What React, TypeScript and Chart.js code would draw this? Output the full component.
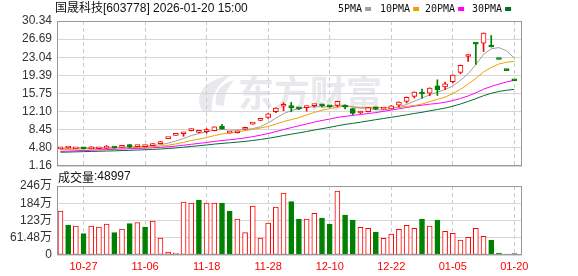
import React, { useEffect, useRef } from 'react';
import { Chart, registerables } from 'chart.js';

Chart.register(...registerables);

const RED = '#ff0000';
const GREEN = '#008000';

const dates = [
  '10-22', '10-23', '10-24', '10-27', '10-28', '10-29', '10-30', '10-31', '11-03', '11-04',
  '11-05', '11-06', '11-07', '11-10', '11-11', '11-12', '11-13', '11-14', '11-17', '11-18',
  '11-19', '11-20', '11-21', '11-24', '11-25', '11-26', '11-27', '11-28', '12-01', '12-02',
  '12-03', '12-04', '12-05', '12-08', '12-09', '12-10', '12-11', '12-12', '12-15', '12-16',
  '12-17', '12-18', '12-19', '12-22', '12-23', '12-24', '12-25', '12-26', '12-29', '12-30',
  '12-31', '01-05', '01-06', '01-07', '01-08', '01-09', '01-15', '01-16', '01-19', '01-20',
];

const opens = [
  4.62, 4.78, 4.62, 4.80, 4.62, 4.64, 4.76, 4.82, 4.92, 5.46,
  5.06, 5.06, 5.26, 5.66, 6.67, 7.33, 7.65, 8.27, 7.92, 8.07,
  8.27, 9.14, 7.78, 7.85, 8.55, 9.60, 10.35, 10.95, 12.10, 13.19,
  13.05, 12.75, 12.90, 13.30, 13.35, 13.20, 13.35, 13.10, 12.70, 11.83,
  12.10, 12.75, 12.62, 12.63, 13.39, 14.16, 15.16, 15.80, 15.84, 17.31,
  17.05, 18.11, 19.98, 23.20, 25.93, 25.88, 25.15, 22.60, 20.34, 18.31,
];
const highs = [
  4.93, 4.86, 4.84, 4.84, 5.06, 4.86, 5.26, 4.86, 5.30, 5.50,
  5.30, 5.32, 5.64, 6.10, 6.67, 7.33, 7.83, 8.62, 8.14, 8.68,
  9.05, 9.55, 7.92, 8.20, 9.00, 9.83, 10.65, 11.70, 12.86, 13.89,
  13.96, 12.85, 13.15, 13.42, 13.50, 13.30, 14.20, 13.49, 12.75, 12.20,
  12.95, 13.03, 12.75, 13.32, 14.05, 15.05, 16.08, 16.65, 16.90, 18.51,
  18.05, 19.52, 21.47, 23.57, 25.93, 27.95, 27.41, 22.60, 20.34, 18.31,
];
const lows = [
  4.58, 4.74, 4.60, 4.60, 4.60, 4.62, 4.66, 4.74, 4.90, 4.80,
  5.00, 5.02, 5.22, 5.62, 6.67, 7.33, 7.13, 8.22, 7.85, 7.77,
  8.22, 8.58, 7.76, 7.80, 8.50, 9.55, 10.30, 10.74, 11.89, 12.29,
  12.07, 12.50, 12.20, 13.00, 13.03, 12.95, 13.03, 12.63, 11.50, 11.70,
  12.05, 12.49, 12.55, 12.60, 13.03, 13.84, 14.84, 14.80, 15.30, 15.36,
  16.51, 17.85, 19.72, 22.19, 21.59, 24.20, 25.11, 22.60, 20.34, 18.31,
];
const closes = [
  4.90, 4.82, 4.80, 4.64, 4.92, 4.82, 4.82, 4.78, 5.26, 5.06,
  5.26, 5.24, 5.60, 6.06, 6.67, 7.33, 7.80, 8.58, 8.10, 8.33,
  9.02, 8.62, 7.88, 8.13, 8.94, 9.83, 10.62, 11.66, 12.83, 13.49,
  12.90, 12.65, 13.10, 13.40, 13.25, 13.05, 14.16, 13.00, 11.75, 12.09,
  12.90, 12.65, 12.72, 13.29, 14.00, 15.00, 16.04, 15.65, 16.85, 16.51,
  17.71, 19.48, 21.43, 23.57, 25.70, 27.90, 25.11, 22.60, 20.34, 18.31,
];

const volumes = [
  1568000, 1069000, 1034000, 760000, 1034000, 998000, 1105000, 795000, 927000, 1116000,
  1152000, 998000, 1212000, 606000, 107000, 71000, 1889000, 1853000, 1960000, 1853000,
  1853000, 1853000, 1568000, 1283000, 795000, 1746000, 606000, 1140000, 1710000, 2210000,
  1900000, 1283000, 1283000, 1486000, 1319000, 1105000, 2281000, 1426000, 1247000, 986000,
  950000, 820000, 594000, 748000, 915000, 1057000, 950000, 1283000, 1034000, 1247000,
  843000, 772000, 535000, 629000, 950000, 665000, 535000, 71000, 36000, 48997,
];
// 1 = red (up) volume bar, 0 = green
const volUp = [
  1, 0, 1, 0, 1, 1, 1, 0, 1, 0,
  1, 0, 1, 1, 1, 1, 1, 1, 0, 1,
  1, 0, 0, 1, 1, 1, 1, 1, 1, 1,
  0, 0, 1, 1, 0, 0, 1, 0, 0, 1,
  1, 0, 1, 1, 1, 1, 1, 0, 1, 0,
  1, 1, 1, 1, 1, 1, 0, 0, 0, 0,
];

const ma5 = [
  4.67, 4.73, 4.77, 4.78, 4.82, 4.80, 4.78, 4.80, 4.92, 4.95,
  5.04, 5.12, 5.28, 5.44, 5.77, 6.18, 6.69, 7.29, 7.70, 8.03,
  8.37, 8.53, 8.39, 8.40, 8.52, 8.68, 9.08, 9.84, 10.78, 11.69,
  12.30, 12.71, 12.99, 13.11, 13.06, 13.09, 13.39, 13.37, 13.04, 12.81,
  12.78, 12.48, 12.42, 12.73, 13.11, 13.53, 14.21, 14.80, 15.51, 16.01,
  16.55, 17.24, 18.40, 19.74, 21.58, 23.62, 24.74, 24.98, 24.33, 22.85,
];
const ma10 = [
  4.44, 4.46, 4.58, 4.60, 4.64, 4.68, 4.72, 4.76, 4.84, 4.88,
  4.92, 4.96, 5.04, 5.18, 5.36, 5.61, 5.91, 6.29, 6.57, 6.90,
  7.27, 7.61, 7.84, 8.05, 8.27, 8.52, 8.81, 9.11, 9.59, 10.10,
  10.49, 10.89, 11.42, 11.94, 12.37, 12.70, 13.05, 13.18, 13.08, 12.94,
  12.94, 12.94, 12.90, 12.89, 12.96, 13.16, 13.34, 13.61, 14.12, 14.56,
  15.04, 15.73, 16.60, 17.62, 18.79, 20.08, 20.99, 21.69, 22.04, 22.22,
];
const ma20 = [
  4.10, 4.16, 4.22, 4.28, 4.34, 4.40, 4.46, 4.51, 4.58, 4.64,
  4.70, 4.76, 4.83, 4.92, 5.03, 5.17, 5.33, 5.53, 5.71, 5.89,
  6.10, 6.29, 6.44, 6.61, 6.82, 7.07, 7.36, 7.70, 8.08, 8.50,
  8.88, 9.25, 9.63, 9.99, 10.32, 10.61, 10.93, 11.15, 11.33, 11.52,
  11.71, 11.91, 12.16, 12.41, 12.67, 12.93, 13.20, 13.40, 13.60, 13.75,
  13.99, 14.33, 14.75, 15.26, 15.88, 16.62, 17.17, 17.65, 18.08, 18.39,
];
const ma30 = [
  3.93, 3.97, 4.01, 4.05, 4.09, 4.13, 4.17, 4.21, 4.27, 4.32,
  4.38, 4.43, 4.50, 4.58, 4.68, 4.80, 4.94, 5.10, 5.24, 5.39,
  5.56, 5.71, 5.83, 5.96, 6.11, 6.29, 6.49, 6.73, 7.00, 7.29,
  7.56, 7.82, 8.10, 8.39, 8.67, 8.94, 9.25, 9.53, 9.74, 9.98,
  10.23, 10.48, 10.72, 10.96, 11.20, 11.46, 11.73, 11.97, 12.26, 12.53,
  12.82, 13.18, 13.64, 14.15, 14.71, 15.31, 15.79, 16.16, 16.41, 16.57,
];

const priceTicks = [1.16, 4.80, 8.45, 12.10, 15.75, 19.39, 23.04, 26.69, 30.34];
const volTicks = [0, 614800, 1229600, 1844400, 2459200];
const volTickLabels = ['0', '61.48万', '123万', '184万', '246万'];
const xTickIdx = [3, 11, 19, 27, 35, 43, 51, 59];

const maNames = ['5PMA', '10PMA', '20PMA', '30PMA'];
const maColors = ['#a0a0a0', '#f0a000', '#ff00ff', '#006e30'];

const titleText = '国晟科技[603778] 2026-01-20 15:00';
const volLabelText = '成交量';
const volLabelValue = ':48997';

function isUp(i: number) {
  const o = opens[i];
  const c = closes[i];
  if (c > o) return true;
  if (c < o) return false;
  return i === 0 ? true : c >= closes[i - 1];
}

const framePlugin = {
  id: 'frame',
  afterDraw(chart: any) {
    const { ctx, chartArea: a } = chart;
    ctx.save();
    ctx.strokeStyle = '#999999';
    ctx.lineWidth = 1;
    const l = Math.round(a.left) + 0.5;
    const t = Math.round(a.top) + 0.5;
    const r = Math.round(a.right) - 0.5;
    const b = Math.round(a.bottom) - 0.5;
    ctx.strokeRect(l, t, r - l, b - t);
    ctx.restore();
  },
};

const watermarkPlugin = {
  id: 'watermark',
  beforeDraw(chart: any) {
    const ctx = chart.ctx;
    ctx.save();
    ctx.fillStyle = '#e8e8ed';
    ctx.beginPath();
    ctx.moveTo(203, 112);
    ctx.bezierCurveTo(193, 96, 203, 80, 231, 75);
    ctx.bezierCurveTo(215, 86, 210, 99, 212, 112);
    ctx.closePath();
    ctx.fill();
    ctx.beginPath();
    ctx.moveTo(216, 105);
    ctx.bezierCurveTo(214, 93, 220, 84, 234, 80);
    ctx.bezierCurveTo(226, 90, 224, 98, 224, 106);
    ctx.closePath();
    ctx.fill();
    ctx.font = "bold 36px 'Noto Sans CJK SC'";
    ctx.textBaseline = 'middle';
    ctx.textAlign = 'left';
    ctx.fillText('东方财富', 238, 93);
    ctx.restore();
  },
};

const headerPlugin = {
  id: 'header',
  afterDraw(chart: any) {
    const ctx = chart.ctx;
    ctx.save();
    ctx.textBaseline = 'middle';
    ctx.textAlign = 'left';
    ctx.fillStyle = '#111111';
    ctx.font = "12px 'Liberation Sans', 'Noto Sans CJK SC'";
    ctx.fillText(titleText, 55, 9);
    const xs = [338, 380, 425, 472];
    ctx.font = "10px 'DejaVu Sans Mono'";
    maNames.forEach((n, k) => {
      ctx.fillStyle = '#111111';
      ctx.fillText(n, xs[k], 9);
      const w = ctx.measureText(n).width;
      ctx.fillStyle = maColors[k];
      ctx.fillRect(xs[k] + w + 3, 7, 6, 4);
    });
    ctx.restore();
  },
};

const volHeaderPlugin = {
  id: 'volHeader',
  afterDraw(chart: any) {
    const ctx = chart.ctx;
    ctx.save();
    ctx.textBaseline = 'middle';
    ctx.textAlign = 'left';
    ctx.fillStyle = '#111111';
    ctx.font = "12px 'Noto Sans CJK SC'";
    ctx.fillText(volLabelText, 58, 9);
    const w = ctx.measureText(volLabelText).width;
    ctx.font = "12px 'Liberation Sans'";
    ctx.fillText(volLabelValue, 58 + w, 9);
    ctx.restore();
  },
};

function xScale(showLabels: boolean) {
  return {
    type: 'linear',
    bounds: 'data',
    min: -0.45,
    max: 60,
    offset: false,
    afterBuildTicks: (s: any) => {
      s.ticks = xTickIdx.map((v) => ({ value: v }));
    },
    afterFit: (s: any) => {
      s.height = showLabels ? 21 : 0;
    },
    ticks: {
      display: showLabels,
      autoSkip: false,
      maxRotation: 0,
      minRotation: 0,
      padding: 5,
      color: RED,
      font: { family: "'Liberation Sans'", size: 11 },
      callback: (v: any) => dates[v] ?? '',
    },
    grid: { color: '#cccccc', drawTicks: false, offset: false, lineWidth: 1 },
    border: { display: false, dash: [4, 3] },
  };
}

export default function App() {
  const ref1 = useRef<HTMLCanvasElement>(null);
  const ref2 = useRef<HTMLCanvasElement>(null);

  useEffect(() => {
    document.body.style.margin = '0';
    const idx = closes.map((_, i) => i);

    const c1 = new Chart(ref1.current as HTMLCanvasElement, {
      type: 'bar',
      data: {
        datasets: [
          {
            type: 'bar',
            data: idx.map((i) => ({ x: i, y: [opens[i], closes[i]] })),
            backgroundColor: (c: any) => (isUp(c.dataIndex) ? '#ffffff' : GREEN),
            borderColor: (c: any) => (isUp(c.dataIndex) ? RED : GREEN),
            borderWidth: 1,
            borderSkipped: false,
            barThickness: 5,
            minBarLength: 2,
            grouped: false,
            order: 0,
          },
          {
            type: 'bar',
            data: idx.map((i) => ({ x: i, y: [lows[i], highs[i]] })),
            backgroundColor: (c: any) => (isUp(c.dataIndex) ? RED : GREEN),
            borderWidth: 0,
            barThickness: 1,
            grouped: false,
            order: 1,
          },
          ...[ma5, ma10, ma20, ma30].map((arr, k) => ({
            type: 'line',
            data: arr.map((v, i) => ({ x: i, y: v })),
            borderColor: maColors[k],
            borderWidth: 1,
            pointRadius: 0,
            tension: 0,
            fill: false,
            order: 2 + k,
          })),
        ] as any,
      },
      options: {
        responsive: false,
        animation: false,
        devicePixelRatio: 1,
        events: [],
        layout: { padding: { left: 0, right: 56, top: 21, bottom: 18 } },
        plugins: { legend: { display: false }, tooltip: { enabled: false } },
        scales: {
          x: xScale(false) as any,
          y: {
            type: 'linear',
            bounds: 'data',
            min: 1.16,
            max: 30.34,
            beginAtZero: false,
            afterBuildTicks: (s: any) => {
              s.ticks = priceTicks.map((v) => ({ value: v }));
            },
            afterFit: (s: any) => {
              s.width = 57;
            },
            ticks: {
              autoSkip: false,
              padding: 5,
              color: '#333333',
              font: { family: "'Liberation Sans'", size: 12 },
              callback: (v: any) => Number(v).toFixed(2),
            },
            grid: { color: '#d6d6d6', drawTicks: false, lineWidth: 1 },
            border: { display: false },
          },
        },
      },
      plugins: [watermarkPlugin, framePlugin, headerPlugin],
    } as any);

    const c2 = new Chart(ref2.current as HTMLCanvasElement, {
      type: 'bar',
      data: {
        datasets: [
          {
            type: 'bar',
            data: idx.map((i) => ({ x: i, y: volumes[i] })),
            backgroundColor: (c: any) => (volUp[c.dataIndex] ? '#ffffff' : GREEN),
            borderColor: (c: any) => (volUp[c.dataIndex] ? RED : GREEN),
            borderWidth: 1,
            borderSkipped: false,
            barThickness: 5,
            minBarLength: 1,
            grouped: false,
          },
        ] as any,
      },
      options: {
        responsive: false,
        animation: false,
        devicePixelRatio: 1,
        events: [],
        layout: { padding: { left: 0, right: 56, top: 18, bottom: 0 } },
        plugins: { legend: { display: false }, tooltip: { enabled: false } },
        scales: {
          x: xScale(true) as any,
          y: {
            type: 'linear',
            bounds: 'data',
            min: 0,
            max: 2459200,
            afterBuildTicks: (s: any) => {
              s.ticks = volTicks.map((v) => ({ value: v }));
            },
            afterFit: (s: any) => {
              s.width = 57;
            },
            ticks: {
              autoSkip: false,
              padding: 5,
              color: '#333333',
              font: { family: "'Liberation Sans', 'Noto Sans CJK SC'", size: 12 },
              callback: (_v: any, i: number) => volTickLabels[i],
            },
            grid: { color: '#d6d6d6', drawTicks: false, lineWidth: 1 },
            border: { display: false },
          },
        },
      },
      plugins: [framePlugin, volHeaderPlugin],
    } as any);

    return () => {
      c1.destroy();
      c2.destroy();
    };
  }, []);

  return (
    <div style={{ position: 'relative', width: 578, height: 276, background: '#ffffff', overflow: 'hidden' }}>
      <canvas
        ref={ref1}
        width={578}
        height={184}
        style={{ position: 'absolute', left: 0, top: 0, width: 578, height: 184 }}
      />
      <canvas
        ref={ref2}
        width={578}
        height={108}
        style={{ position: 'absolute', left: 0, top: 168, width: 578, height: 108 }}
      />
    </div>
  );
}
